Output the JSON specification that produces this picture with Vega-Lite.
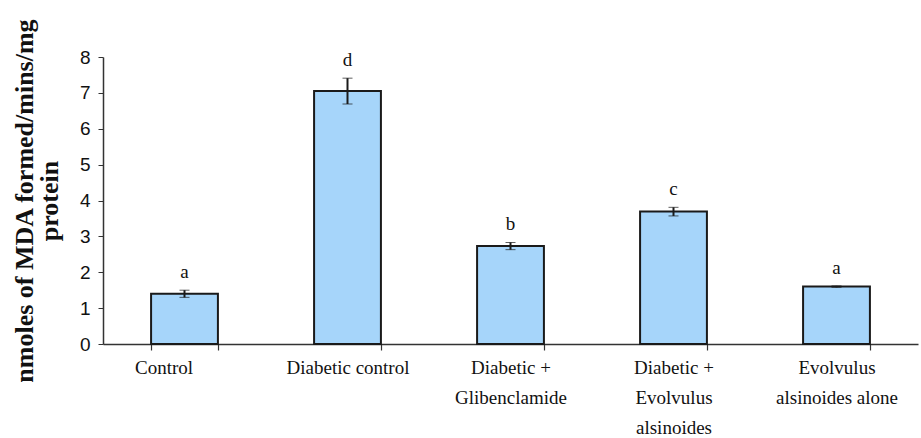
{
  "$schema": "https://vega.github.io/schema/vega-lite/v6.json",
  "autosize": "none",
  "width": 815,
  "height": 287,
  "padding": {"left": 103, "top": 57, "right": 3, "bottom": 94},
  "background": "white",
  "config": {"view": {"stroke": null}},
  "data": {
    "values": [
      {"group": "Control", "mean": 1.40, "sd": 0.10, "letter": "a"},
      {"group": "Diabetic control", "mean": 7.05, "sd": 0.36, "letter": "d"},
      {"group": "Diabetic +|Glibenclamide", "mean": 2.73, "sd": 0.10, "letter": "b"},
      {"group": "Diabetic +|Evolvulus|alsinoides", "mean": 3.69, "sd": 0.12, "letter": "c"},
      {"group": "Evolvulus|alsinoides alone", "mean": 1.60, "sd": 0.02, "letter": "a"}
    ]
  },
  "encoding": {
    "x": {
      "field": "group",
      "type": "nominal",
      "sort": null,
      "scale": {"paddingInner": 0.59, "paddingOuter": 0.295},
      "axis": {
        "title": null,
        "labelAngle": 0,
        "labelExpr": "split(datum.label, '|')",
        "labelFont": "Liberation Serif",
        "labelFontSize": 19,
        "labelLineHeight": 30,
        "labelColor": "#111",
        "labelPadding": 8,
        "labelOffset": {"condition": {"test": "datum.value === 'Control'", "value": -21}, "value": 0},
        "tickBand": "extent",
        "tickSize": 6,
        "tickColor": "#333",
        "domainColor": "#333",
        "domainWidth": 1.5,
        "tickWidth": 1.2
      }
    }
  },
  "resolve": {"axis": {"y": "independent"}},
  "layer": [
    {
      "mark": {"type": "bar", "fill": "#a6d5fa", "stroke": "#1a1a1a", "strokeWidth": 2},
      "encoding": {
        "y": {
          "field": "mean",
          "type": "quantitative",
          "scale": {"domain": [0, 8], "nice": false},
          "title": ["nmoles of MDA formed/mins/mg", "protein"],
          "axis": {
            "values": [0, 1, 2, 3, 4, 5, 6, 7, 8],
            "labelOverlap": false,
            "grid": false,
            "tickSize": 5,
            "tickColor": "#333",
            "domainColor": "#333",
            "domainWidth": 1.5,
            "labelFont": "Liberation Sans",
            "labelFontSize": 19,
            "labelColor": "#111",
            "labelPadding": 8,
            "titleFont": "Liberation Serif",
            "titleFontSize": 26,
            "titleFontWeight": "bold",
            "titleLineHeight": 25,
            "titleColor": "#111",
            "titlePadding": 17
          }
        }
      }
    },
    {
      "mark": {"type": "errorbar", "ticks": {"size": 10, "color": "#1a1a1a", "strokeWidth": 2}, "rule": {"color": "#1a1a1a", "strokeWidth": 2}},
      "encoding": {
        "y": {"field": "mean", "type": "quantitative", "axis": null},
        "yError": {"field": "sd"}
      }
    },
    {
      "transform": [{"calculate": "datum.mean + datum.sd", "as": "top"}],
      "mark": {"type": "text", "font": "Liberation Serif", "fontSize": 19, "baseline": "middle", "dy": -18, "color": "#111"},
      "encoding": {
        "y": {"field": "top", "type": "quantitative", "axis": null},
        "text": {"field": "letter"}
      }
    }
  ]
}
